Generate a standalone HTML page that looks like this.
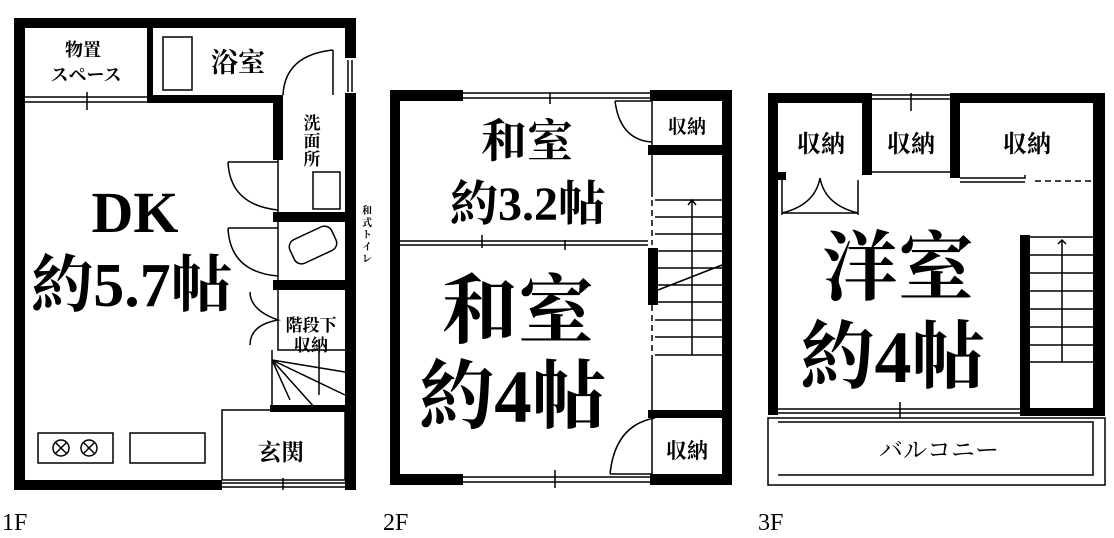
<!DOCTYPE html>
<html><head><meta charset="utf-8"><style>
html,body{margin:0;padding:0;background:#fff;}
svg{display:block}
text{font-family:"Liberation Serif","Noto Serif CJK SC","Noto Sans CJK JP",serif;fill:#000;font-weight:bold;}
.n{font-weight:normal}
</style></head><body>
<svg width="1114" height="538" viewBox="0 0 1114 538" xmlns="http://www.w3.org/2000/svg">
<g fill="#000">
<rect x="14" y="18" width="342" height="10"/>
<rect x="14" y="18" width="11" height="472"/>
<rect x="14" y="480" width="208" height="10"/>
<rect x="345" y="18" width="11" height="40"/>
<rect x="345" y="93" width="11" height="397"/>
<rect x="147" y="28" width="6" height="72"/>
<rect x="147" y="95" width="136" height="8"/>
<rect x="273" y="100" width="10" height="60"/>
<rect x="273" y="212" width="83" height="10"/>
<rect x="273" y="280" width="83" height="10"/>
<rect x="270" y="405" width="86" height="7"/>
</g>
<g fill="none" stroke="#000" stroke-width="1.5">
<path d="M25 97H147M25 102H147M87 92V110"/>
<rect x="163" y="37" width="29" height="53"/>
<path d="M283 95Q285 55 333 50M333 50V95"/>
<path d="M348 60V92M352 60V92"/>
<path d="M278 160V212M228 162H278M228 162Q230 205 278 210"/>
<path d="M278 222V280M228 228H278M228 228Q230 272 278 276"/>
<path d="M278 290V350H345M250 292Q250 310 278 320Q250 325 250 345"/>
<rect x="313" y="172" width="27" height="37"/>
<rect x="290" y="232" width="46" height="26" rx="8" transform="rotate(-25 313 245)"/>
<path d="M272 350V410M272 360L345 372M272 360L290 400M272 360L315 408M272 360L345 395M319 352V395"/>
<rect x="222" y="410" width="123" height="70"/>
<path d="M222 483H345M222 487H345M283 478V490"/>
<rect x="38" y="433" width="75" height="30"/>
<rect x="130" y="433" width="75" height="30"/>
<circle cx="61" cy="448" r="8"/><circle cx="89" cy="448" r="8"/>
<path d="M55 442l12 12M67 442l-12 12M83 442l12 12M95 442l-12 12"/>
</g>
<text x="83" y="56" font-size="18" text-anchor="middle">物置</text>
<text x="86" y="81" font-size="18" text-anchor="middle">スペース</text>
<text x="238" y="72" font-size="27" text-anchor="middle">浴室</text>
<text x="312" y="129" font-size="17" text-anchor="middle">洗</text>
<text x="312" y="147" font-size="17" text-anchor="middle">面</text>
<text x="312" y="165" font-size="17" text-anchor="middle">所</text>
<text x="367" y="214" font-size="10" text-anchor="middle">和</text>
<text x="367" y="226" font-size="10" text-anchor="middle">式</text>
<text x="367" y="238" font-size="10" text-anchor="middle">ト</text>
<text x="367" y="250" font-size="10" text-anchor="middle">イ</text>
<text x="367" y="262" font-size="10" text-anchor="middle">レ</text>
<text x="135" y="232" font-size="58" text-anchor="middle">DK</text>
<text x="132" y="306" font-size="62" text-anchor="middle">約5.7帖</text>
<text x="311" y="331" font-size="17" text-anchor="middle">階段下</text>
<text x="311" y="351" font-size="17" text-anchor="middle">収納</text>
<text x="281" y="460" font-size="23" text-anchor="middle">玄関</text>
<text x="2" y="530" font-size="24" class="n">1F</text>

<!-- 2F -->
<g fill="#000">
<rect x="390" y="90" width="73" height="11"/>
<rect x="650" y="90" width="82" height="11"/>
<rect x="390" y="90" width="10" height="395"/>
<rect x="722" y="90" width="10" height="395"/>
<rect x="390" y="474" width="73" height="11"/>
<rect x="650" y="474" width="82" height="11"/>
<rect x="648" y="145" width="84" height="10"/>
<rect x="648" y="248" width="10" height="57"/>
<rect x="648" y="410" width="84" height="8"/>
</g>
<g fill="none" stroke="#000" stroke-width="1.5">
<path d="M463 93H650M463 98H650M550 93V104M463 477H650M463 482H650M555 470V488"/>
<path d="M400 241H648M400 245H648M482 235V248M565 240V250"/>
<path d="M652 101V145M652 155V197M652 101H615M615 101Q620 140 652 142"/>
<path d="M652 200V245M652 305V355" stroke-dasharray="6 4"/>
<path d="M655 200H722M655 217H722M655 234H722M655 251H722M655 268H722M655 285H722M655 302H722M655 320H722M655 337H722M655 355H722M692 200V355M658 290L722 265M688 205l4-5 4 5"/>
<path d="M652 355V410M652 418V474M655 418Q615 425 610 474M610 474H652"/>
</g>
<text x="527" y="157" font-size="46" text-anchor="middle">和室</text>
<text x="528" y="220" font-size="48" text-anchor="middle">約3.2帖</text>
<text x="518" y="337" font-size="76" text-anchor="middle">和室</text>
<text x="513" y="422" font-size="75" text-anchor="middle">約4帖</text>
<text x="687" y="133" font-size="19" text-anchor="middle">収納</text>
<text x="687" y="458" font-size="21" text-anchor="middle">収納</text>
<text x="383" y="530" font-size="24" class="n">2F</text>

<!-- 3F -->
<g fill="#000">
<rect x="768" y="93" width="104" height="10"/>
<rect x="950" y="93" width="155" height="10"/>
<rect x="768" y="93" width="10" height="322"/>
<rect x="1093" y="93" width="12" height="322"/>
<rect x="862" y="93" width="10" height="82"/>
<rect x="950" y="93" width="10" height="85"/>
<rect x="1020" y="235" width="10" height="180"/>
<rect x="1020" y="408" width="85" height="8"/>
<rect x="778" y="172" width="8" height="8"/>
</g>
<g fill="none" stroke="#000" stroke-width="1.5">
<path d="M872 95H950M872 99H950M911 93V111M872 172H950"/>
<path d="M960 178H1025V175M960 182H1025"/>
<path d="M1035 181H1093" stroke-dasharray="6 4"/>
<path d="M782 180V215M858 180V215M782 213H858M820 178Q815 205 782 213M820 178Q825 205 858 213"/>
<path d="M778 409H1020M778 413H1020M900 402V418"/>
<path d="M1030 237H1093M1030 255H1093M1030 273H1093M1030 291H1093M1030 309H1093M1030 327H1093M1030 345H1093M1030 362H1093M1062 240V362M1058 244l4-4 4 4"/>
<path d="M768 418H1105V485H768ZM778 422H1093V475H778"/>
</g>
<text x="821" y="152" font-size="24" text-anchor="middle">収納</text>
<text x="911" y="152" font-size="24" text-anchor="middle">収納</text>
<text x="1027" y="152" font-size="24" text-anchor="middle">収納</text>
<text x="898" y="294" font-size="76" text-anchor="middle">洋室</text>
<text x="893" y="382" font-size="74" text-anchor="middle">約4帖</text>
<text x="939" y="458" font-size="24" class="n" text-anchor="middle">バルコニー</text>
<text x="758" y="530" font-size="24" class="n">3F</text>
</svg>
</body></html>
